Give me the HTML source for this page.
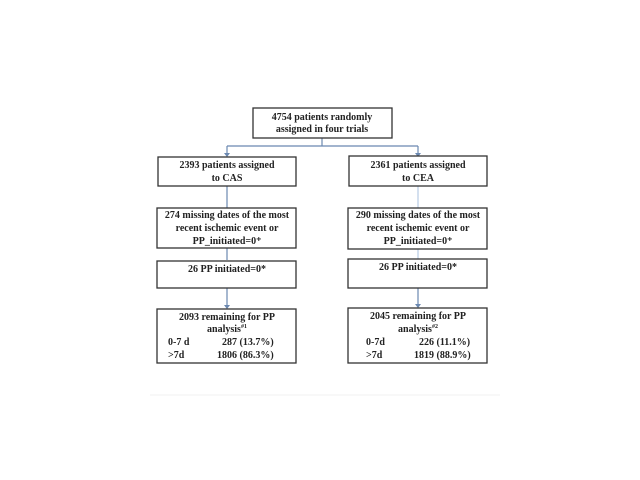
<!DOCTYPE html>
<html><head><style>
body{margin:0;background:#fff;}
svg{display:block;}
text{font-family:"Liberation Serif",serif;font-weight:bold;font-size:10px;fill:#222;}
</style></head><body>
<svg width="640" height="480" viewBox="0 0 640 480">
<g stroke="#6b88b0" stroke-width="1.2" fill="none">
<line x1="322" y1="138" x2="322" y2="146"/>
<line x1="227" y1="146" x2="418" y2="146"/>
<line x1="227" y1="146" x2="227" y2="156"/>
<line x1="418" y1="146" x2="418" y2="156"/>
<line x1="227" y1="186" x2="227" y2="208"/>
<line x1="227" y1="248" x2="227" y2="260"/>
<line x1="227" y1="288" x2="227" y2="308"/>
<line x1="418" y1="186" x2="418" y2="208" stroke="#b8cce4"/>
<line x1="418" y1="249" x2="418" y2="259" stroke="#b8cce4"/>
<line x1="418" y1="288" x2="418" y2="307"/>
</g>
<g fill="#6b88b0">
<path d="M224,153 L230,153 L227,157Z"/><path d="M415,153 L421,153 L418,157Z"/>
<path d="M224,305 L230,305 L227,309Z"/><path d="M415,304 L421,304 L418,308Z"/>
</g>
<line x1="150" y1="395" x2="500" y2="395" stroke="#f0f0f0" stroke-width="1"/>
<g fill="#fff" stroke="#333" stroke-width="1.3">
<rect x="253" y="108" width="139" height="30"/>
<rect x="158" y="157" width="138" height="29"/>
<rect x="349" y="156" width="138" height="30"/>
<rect x="157" y="208" width="139" height="40"/>
<rect x="348" y="208" width="139" height="41"/>
<rect x="157" y="261" width="139" height="27"/>
<rect x="348" y="259" width="139" height="29"/>
<rect x="157" y="309" width="139" height="54"/>
<rect x="348" y="308" width="139" height="55"/>
</g>
<g text-anchor="middle">
<text x="322" y="120">4754 patients randomly</text>
<text x="322" y="132">assigned in four trials</text>
<text x="227" y="168">2393 patients assigned</text>
<text x="227" y="181">to CAS</text>
<text x="418" y="168">2361 patients assigned</text>
<text x="418" y="181">to CEA</text>
<text x="227" y="218">274 missing dates of the most</text>
<text x="227" y="231">recent ischemic event or</text>
<text x="227" y="244">PP_initiated=0⁺</text>
<text x="418" y="218">290 missing dates of the most</text>
<text x="418" y="231">recent ischemic event or</text>
<text x="418" y="244">PP_initiated=0⁺</text>
<text x="227" y="272">26 PP  initiated=0*</text>
<text x="418" y="270">26 PP  initiated=0*</text>
<text x="227" y="320">2093 remaining for PP</text>
<text x="227" y="332">analysis<tspan font-size="6" dy="-4">#1</tspan></text>
<text x="418" y="319">2045 remaining for PP</text>
<text x="418" y="332">analysis<tspan font-size="6" dy="-4">#2</tspan></text>
</g>
<g>
<text x="168" y="345">0-7 d</text><text x="222" y="345">287 (13.7%)</text>
<text x="168" y="358">&gt;7d</text><text x="217" y="358">1806 (86.3%)</text>
<text x="366" y="345">0-7d</text><text x="419" y="345">226 (11.1%)</text>
<text x="366" y="358">&gt;7d</text><text x="414" y="358">1819 (88.9%)</text>
</g>
</svg>
</body></html>
